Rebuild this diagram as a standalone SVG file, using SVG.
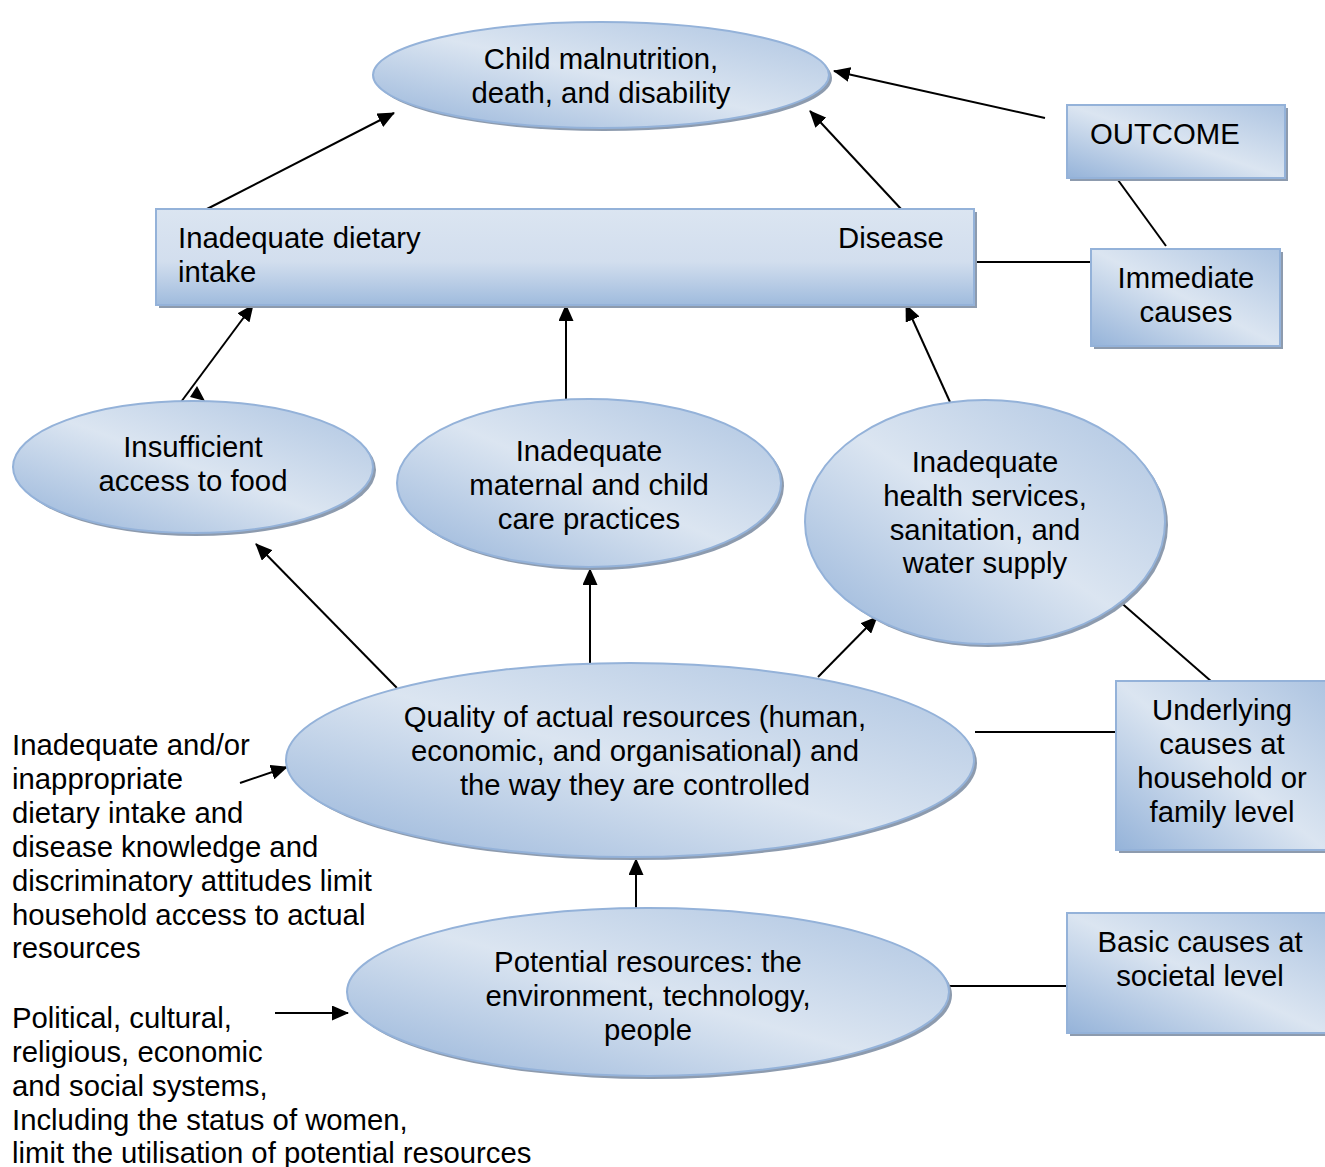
<svg xmlns="http://www.w3.org/2000/svg" width="1325" height="1167" viewBox="0 0 1325 1167">
<style>
text{font-family:"Liberation Sans",Arial,sans-serif;font-size:29.3px;fill:#000}
.c{text-anchor:middle}
.sh{fill:#8d9bae}
.n{fill:url(#g);stroke:#94b2d9;stroke-width:2}
.nv{fill:url(#gv);stroke:#94b2d9;stroke-width:2}
.ln{stroke:#000;stroke-width:2;fill:none}
</style>
<defs>
<linearGradient id="g" x1="0" y1="1" x2="1" y2="0">
<stop offset="0" stop-color="#95b3d9"/>
<stop offset="0.5" stop-color="#dbe5f1"/>
<stop offset="1" stop-color="#adc4e1"/>
</linearGradient>
<linearGradient id="gv" x1="0" y1="0" x2="0" y2="1">
<stop offset="0" stop-color="#dbe5f1"/>
<stop offset="0.55" stop-color="#d2deee"/>
<stop offset="1" stop-color="#9fbbdd"/>
</linearGradient>
<marker id="ahb" markerWidth="17" markerHeight="15" refX="16" refY="7.5" orient="auto" markerUnits="userSpaceOnUse">
<path d="M0,0 L17,7.5 L0,15 z" fill="#000"/>
</marker>
</defs>

<g id="connectors">
<line x1="1045" y1="118" x2="834" y2="71" class="ln" marker-end="url(#ahb)"/>
<line x1="205" y1="210" x2="394" y2="113" class="ln" marker-end="url(#ahb)"/>
<line x1="902" y1="210" x2="810" y2="111" class="ln" marker-end="url(#ahb)"/>
<line x1="1118" y1="180" x2="1166" y2="246" class="ln" stroke-width="1.5"/>
<line x1="974" y1="262" x2="1091" y2="262" class="ln"/>
<line x1="181" y1="402" x2="253" y2="305" class="ln" marker-end="url(#ahb)"/>
<polygon points="190,397 205,401 197,386" fill="#000"/>
<line x1="566" y1="402" x2="566" y2="305" class="ln" marker-end="url(#ahb)"/>
<line x1="950" y1="402" x2="906" y2="305" class="ln" marker-end="url(#ahb)"/>
<line x1="397" y1="688" x2="256" y2="544" class="ln" marker-end="url(#ahb)"/>
<line x1="590" y1="663" x2="590" y2="569" class="ln" marker-end="url(#ahb)"/>
<line x1="818" y1="677" x2="877" y2="617" class="ln" marker-end="url(#ahb)"/>
<line x1="1118" y1="600" x2="1212" y2="682" class="ln" stroke-width="1.5"/>
<line x1="975" y1="732" x2="1116" y2="732" class="ln"/>
<line x1="636" y1="908" x2="636" y2="859" class="ln" marker-end="url(#ahb)"/>
<line x1="949" y1="986" x2="1067" y2="986" class="ln"/>
<line x1="240" y1="783" x2="287" y2="767" class="ln" marker-end="url(#ahb)"/>
<line x1="275" y1="1013" x2="348" y2="1013" class="ln" marker-end="url(#ahb)"/>
</g>

<g id="n-outcome-main">
<ellipse cx="604" cy="78" rx="228" ry="53" class="sh"/>
<ellipse cx="601" cy="75" rx="228" ry="53" class="n"/>
<text x="601" y="69" class="c">Child malnutrition,</text>
<text x="601" y="103" class="c">death, and disability</text>
</g>

<g id="n-outcome-label">
<rect x="1070" y="108" width="218" height="73" class="sh"/>
<rect x="1067" y="105" width="218" height="73" class="n"/>
<text x="1090" y="144">OUTCOME</text>
</g>

<g id="n-immediate">
<rect x="159" y="212" width="818" height="96" class="sh"/>
<rect x="156" y="209" width="818" height="96" class="nv"/>
<text x="178" y="248">Inadequate dietary</text>
<text x="178" y="282">intake</text>
<text x="838" y="248">Disease</text>
</g>

<g id="n-immediate-label">
<rect x="1094" y="252" width="189" height="97" class="sh"/>
<rect x="1091" y="249" width="189" height="97" class="n"/>
<text x="1186" y="288" class="c">Immediate</text>
<text x="1186" y="322" class="c">causes</text>
</g>

<g id="n-food">
<ellipse cx="196" cy="470" rx="180" ry="66" class="sh"/>
<ellipse cx="193" cy="467" rx="180" ry="66" class="n"/>
<text x="193" y="457" class="c">Insufficient</text>
<text x="193" y="491" class="c">access to food</text>
</g>

<g id="n-care">
<ellipse cx="592" cy="486" rx="192" ry="84" class="sh"/>
<ellipse cx="589" cy="483" rx="192" ry="84" class="n"/>
<text x="589" y="461" class="c">Inadequate</text>
<text x="589" y="495" class="c">maternal and child</text>
<text x="589" y="529" class="c">care practices</text>
</g>

<g id="n-health">
<ellipse cx="988" cy="525" rx="180" ry="122" class="sh"/>
<ellipse cx="985" cy="522" rx="180" ry="122" class="n"/>
<text x="985" y="472" class="c">Inadequate</text>
<text x="985" y="506" class="c">health services,</text>
<text x="985" y="540" class="c">sanitation, and</text>
<text x="985" y="573" class="c">water supply</text>
</g>

<g id="n-quality">
<ellipse cx="633" cy="763" rx="344" ry="97" class="sh"/>
<ellipse cx="630" cy="760" rx="344" ry="97" class="n"/>
<text x="635" y="727" class="c">Quality of actual resources (human,</text>
<text x="635" y="761" class="c">economic, and organisational) and</text>
<text x="635" y="795" class="c">the way they are controlled</text>
</g>

<g id="n-underlying">
<rect x="1119" y="684" width="210" height="169" class="sh"/>
<rect x="1116" y="681" width="210" height="169" class="n"/>
<text x="1222" y="720" class="c">Underlying</text>
<text x="1222" y="754" class="c">causes at</text>
<text x="1222" y="788" class="c">household or</text>
<text x="1222" y="822" class="c">family level</text>
</g>

<g id="n-potential">
<ellipse cx="651" cy="995" rx="301" ry="84" class="sh"/>
<ellipse cx="648" cy="992" rx="301" ry="84" class="n"/>
<text x="648" y="972" class="c">Potential resources: the</text>
<text x="648" y="1006" class="c">environment, technology,</text>
<text x="648" y="1040" class="c">people</text>
</g>

<g id="n-basic">
<rect x="1070" y="916" width="260" height="120" class="sh"/>
<rect x="1067" y="913" width="260" height="120" class="n"/>
<text x="1200" y="952" class="c">Basic causes at</text>
<text x="1200" y="986" class="c">societal level</text>
</g>

<g id="n-note-household">
<text x="12" y="755">Inadequate and/or</text>
<text x="12" y="789">inappropriate</text>
<text x="12" y="823">dietary intake and</text>
<text x="12" y="857">disease knowledge and</text>
<text x="12" y="891">discriminatory attitudes limit</text>
<text x="12" y="925">household access to actual</text>
<text x="12" y="958">resources</text>
</g>

<g id="n-note-societal">
<text x="12" y="1028">Political, cultural,</text>
<text x="12" y="1062">religious, economic</text>
<text x="12" y="1096">and social systems,</text>
<text x="12" y="1130">Including the status of women,</text>
<text x="12" y="1163">limit the utilisation of potential resources</text>
</g>
</svg>
